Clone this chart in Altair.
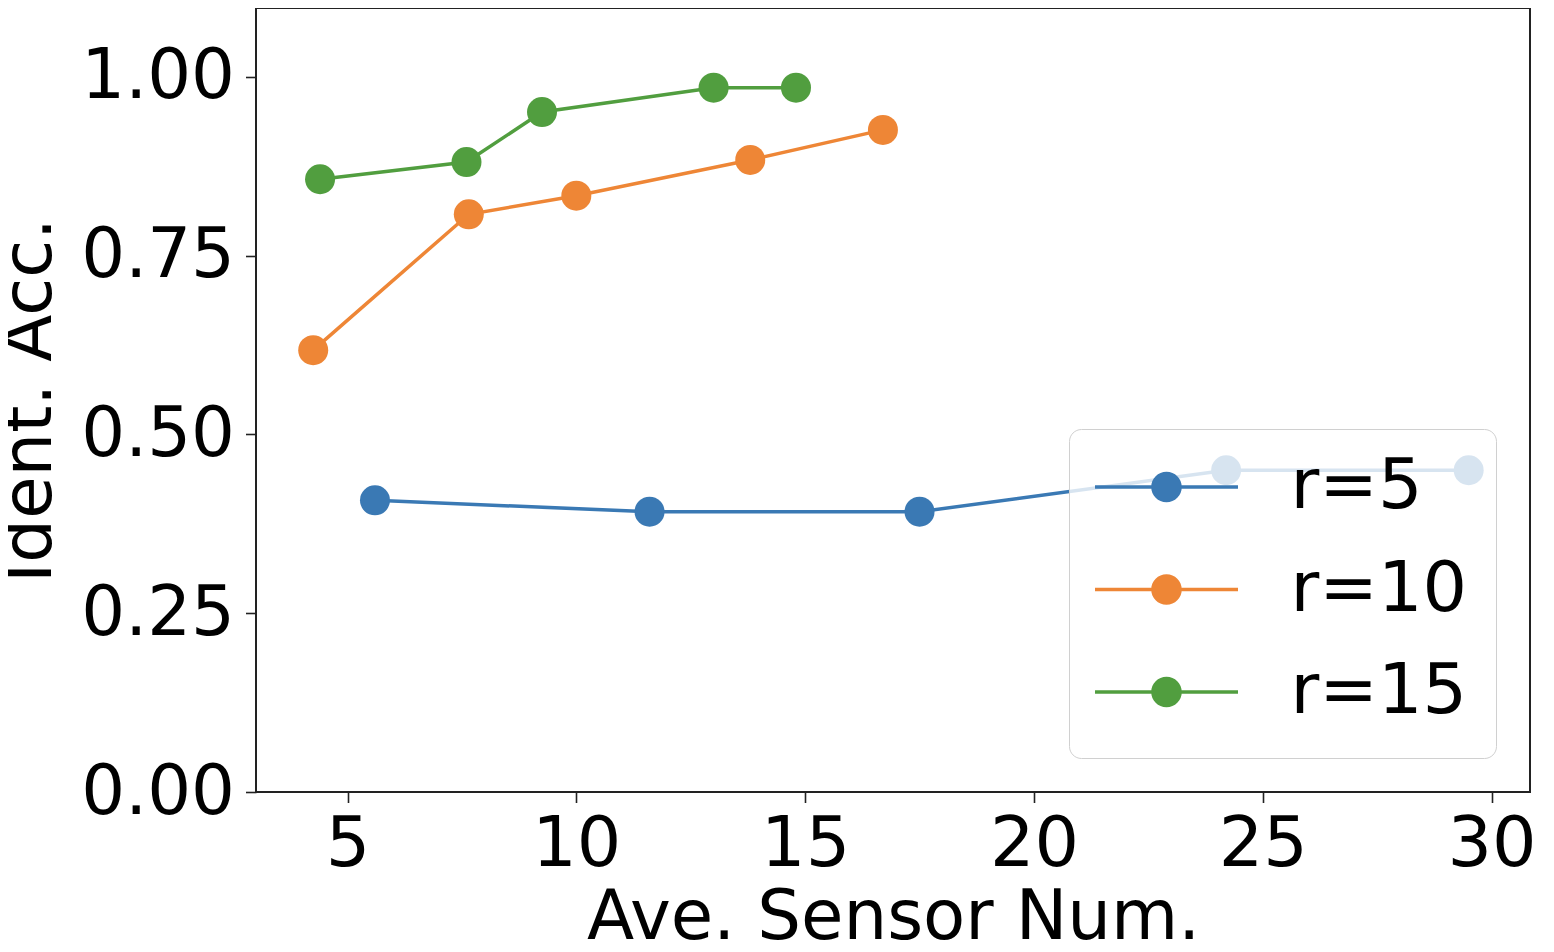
import altair as alt
import pandas as pd

# ---- data ----
series_names = ["r=5", "r=10", "r=15"]
colors = ["#3a79b4", "#ee8636", "#519e3f"]

r5_x = [5.6, 11.6, 17.5, 24.2, 29.5]
r5_y = [0.408, 0.392, 0.392, 0.450, 0.450]

r10_x = [4.25, 7.65, 10.0, 13.8, 16.7]
r10_y = [0.618, 0.808, 0.834, 0.884, 0.926]

r15_x = [4.4, 7.6, 9.25, 13.0, 14.8]
r15_y = [0.857, 0.881, 0.951, 0.985, 0.985]

x_ticks = [5, 10, 15, 20, 25, 30]
y_ticks = [0.0, 0.25, 0.5, 0.75, 1.0]

rows = []
for name, xs, ys in zip(series_names, [r5_x, r10_x, r15_x], [r5_y, r10_y, r15_y]):
    for i, (a, b) in enumerate(zip(xs, ys)):
        rows.append({"series": name, "order": i, "x": a, "y": b})
df = pd.DataFrame(rows)

FONT = "DejaVu Sans"

# legend handle: a line with a filled circle in its middle
# (plus invisible move-to points that give the legend box its matplotlib-like margins)
LEGEND_SYMBOL = (
    "M-1.986,-0.0486H-0.41V0.0486H-1.986Z "
    "M0.41,-0.0486H1.986V0.0486H0.41Z "
    "M-0.425,0A0.425,0.425 0 1,1 0.425,0A0.425,0.425 0 1,1 -0.425,0Z "
    "M8.514,0Z M0,1.222Z"
)

x_enc = alt.X(
    "x:Q",
    scale=alt.Scale(domain=[3.0, 30.84], nice=False, zero=False),
    axis=alt.Axis(
        values=x_ticks, format="d", title="Ave. Sensor Num.",
        grid=False, domain=False,
        labelFont=FONT, labelFontSize=70, labelColor="black",
        labelPadding=8, tickSize=10.5, tickWidth=1.6, tickColor="#222",
        titleFont=FONT, titleFontSize=69, titleFontWeight="normal",
        titleColor="black", titlePadding=4,
    ),
)
y_enc = alt.Y(
    "y:Q",
    scale=alt.Scale(domain=[0.0, 1.0965], nice=False, zero=False),
    axis=alt.Axis(
        values=y_ticks, format=".2f", title="Ident. Acc.",
        grid=False, domain=False,
        labelFont=FONT, labelFontSize=69, labelColor="black",
        labelPadding=11, tickSize=10.5, tickWidth=1.6, tickColor="#222",
        titleFont=FONT, titleFontSize=69, titleFontWeight="normal",
        titleColor="black", titlePadding=16,
    ),
)
color_scale = alt.Scale(domain=series_names, range=colors)

line_layers = [
    alt.Chart(df)
    .transform_filter(alt.datum.series == name)
    .mark_line(color=col, strokeWidth=3.5)
    .encode(x=x_enc, y=y_enc, order="order:Q")
    for name, col in zip(series_names, colors)
]

points = alt.Chart(df).mark_circle(size=900, opacity=1).encode(
    x=x_enc, y=y_enc,
    color=alt.Color(
        "series:N", scale=color_scale, sort=series_names,
        legend=alt.Legend(
            title=None, orient="bottom-right", offset=34, padding=22,
            fillColor="rgba(255,255,255,0.8)", strokeColor="#d0d0d0",
            cornerRadius=12,
            labelFont=FONT, labelFontSize=70, labelColor="black",
            labelLimit=500, labelOffset=88,
            symbolType=LEGEND_SYMBOL, symbolSize=5184, symbolOffset=39.5,
            symbolOpacity=1, symbolStrokeWidth=0,
            rowPadding=22.5, zindex=1,
        ),
    ),
)

chart = (
    alt.layer(*line_layers, points)
    .properties(
        width=1274, height=784,
        autosize=alt.AutoSizeParams(type="none"),
        padding={"left": 248, "top": 0, "right": 14, "bottom": 152},
        background="white",
    )
    .configure_view(stroke="#222", strokeWidth=2)
)

chart.save("out.html", embed_options={"renderer": "svg", "actions": False})
